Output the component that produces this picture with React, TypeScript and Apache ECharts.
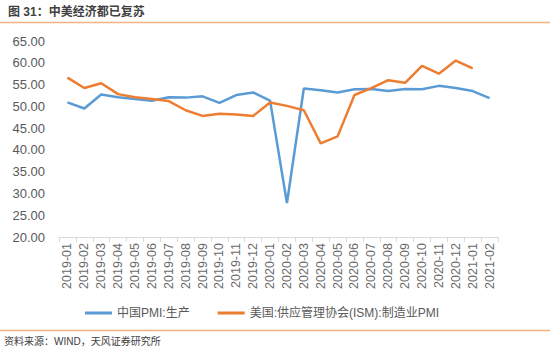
import React, { useEffect, useRef } from "react";
import * as echarts from "echarts";

const categories = [
  "2019-01","2019-02","2019-03","2019-04","2019-05","2019-06","2019-07","2019-08","2019-09","2019-10","2019-11","2019-12",
  "2020-01","2020-02","2020-03","2020-04","2020-05","2020-06","2020-07","2020-08","2020-09","2020-10","2020-11","2020-12",
  "2021-01","2021-02",
];
const chinaPmiProduction = [
  50.9, 49.5, 52.7, 52.1, 51.7, 51.3, 52.1, 52.0, 52.3, 50.8, 52.6, 53.2,
  51.3, 27.8, 54.1, 53.7, 53.2, 53.9, 54.0, 53.5, 54.0, 53.9, 54.7, 54.2,
  53.5, 51.9,
];
const usIsmPmi: (number | null)[] = [
  56.6, 54.2, 55.3, 52.8, 52.1, 51.7, 51.2, 49.1, 47.8, 48.3, 48.1, 47.8,
  50.9, 50.1, 49.1, 41.5, 43.1, 52.6, 54.2, 56.0, 55.4, 59.3, 57.5, 60.5,
  58.7, null,
];
const seriesNames = ["中国PMI:生产", "美国:供应管理协会(ISM):制造业PMI"];
const titleText = "图 31：中美经济都已复苏";
const sourceText = "资料来源：WIND，天风证券研究所";

const FONT = "'Liberation Sans', 'Noto Sans CJK SC', sans-serif";

export default function App() {
  const ref = useRef<HTMLDivElement>(null);
  useEffect(() => {
    document.body.style.margin = "0";
    const chart = echarts.init(ref.current!, undefined, { renderer: "svg" });
    chart.setOption({
      animation: false,
      backgroundColor: "#ffffff",
      textStyle: { fontFamily: FONT },
      grid: { left: 59, right: 52, top: 41, bottom: 117, containLabel: false },
      legend: {
        left: 80,
        top: 302,
        itemWidth: 27,
        itemHeight: 3,
        itemGap: 28,
        icon: "rect",
        textStyle: { fontSize: 12, color: "#595959", fontFamily: FONT },
        data: seriesNames,
      },
      xAxis: {
        type: "category",
        data: categories,
        boundaryGap: true,
        axisLine: { lineStyle: { color: "#D9D9D9" } },
        axisTick: { show: true, alignWithLabel: false, lineStyle: { color: "#D9D9D9" } },
        axisLabel: { rotate: 90, interval: 0, fontSize: 12.5, color: "#6b6b6b", margin: 6, fontFamily: FONT },
      },
      yAxis: {
        type: "value",
        min: 20,
        max: 65,
        interval: 5,
        splitLine: { show: false },
        axisLine: { show: false },
        axisTick: { show: false },
        axisLabel: {
          fontSize: 13,
          color: "#595959",
          margin: 14,
          fontFamily: FONT,
          formatter: (v: number) => v.toFixed(2),
        },
      },
      series: [
        {
          name: seriesNames[0],
          type: "line",
          data: chinaPmiProduction,
          symbol: "none",
          lineStyle: { width: 2.5, color: "#5B9BD5" },
          itemStyle: { color: "#5B9BD5" },
        },
        {
          name: seriesNames[1],
          type: "line",
          data: usIsmPmi,
          symbol: "none",
          lineStyle: { width: 2.5, color: "#ED7D31" },
          itemStyle: { color: "#ED7D31" },
        },
      ],
      graphic: [
        {
          type: "text",
          left: 8,
          top: 6,
          style: { text: titleText, fontSize: 12, fontWeight: "bold", fill: "#404040", fontFamily: FONT },
        },
        {
          type: "line",
          shape: { x1: 0, y1: 22.5, x2: 550, y2: 22.5 },
          style: { stroke: "#F4B183", lineWidth: 1.5 },
        },
        {
          type: "line",
          shape: { x1: 0, y1: 330.5, x2: 550, y2: 330.5 },
          style: { stroke: "#F4B183", lineWidth: 1.5 },
        },
        {
          type: "text",
          left: 4,
          top: 336,
          style: { text: sourceText, fontSize: 10, fill: "#404040", fontFamily: FONT },
        },
      ],
    });
    return () => chart.dispose();
  }, []);
  return <div ref={ref} style={{ width: 550, height: 354 }} />;
}
